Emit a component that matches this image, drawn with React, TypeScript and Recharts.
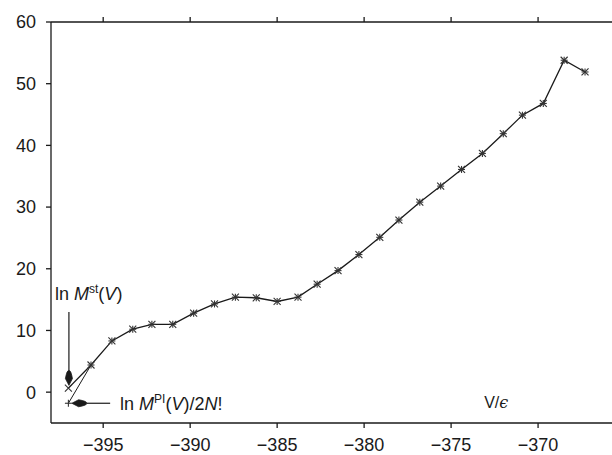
import React from 'react';
import { LineChart, Line, XAxis, YAxis, ReferenceLine, ReferenceDot } from 'recharts';

// potential energy V/eps at each histogram point
const vGrid = [
  -397.0, -395.7, -394.5, -393.3, -392.2, -391.0, -389.8, -388.6, -387.4, -386.2, -385.0, -383.8, -382.7,
  -381.5, -380.3, -379.1, -378.0, -376.8, -375.6, -374.4, -373.2, -372.0, -370.9, -369.7, -368.5, -367.3,
];
const lnMst = [
  0.65, 4.4, 8.3, 10.2, 11.0, 11.0, 12.8, 14.3, 15.4, 15.3, 14.7, 15.4, 17.5,
  19.7, 22.3, 25.1, 27.9, 30.8, 33.4, 36.1, 38.7, 41.9, 44.9, 46.8, 53.8, 51.9,
];
// the PI estimate only differs at the lowest bin
const vPI = [-397.0, -395.7];
const lnMpi = [-1.8, 4.4];

const xTicks = [-395, -390, -385, -380, -375, -370];
const yTicks = [0, 10, 20, 30, 40, 50, 60];
const xDomain = [-398, -365.75];
const yDomain = [-5, 60];

const mstData = vGrid.map((v, i) => ({ v, y: lnMst[i] }));
const piData = vPI.map((v, i) => ({ v, y: lnMpi[i] }));

const FONT = '"Liberation Sans", Arial, Helvetica, sans-serif';
const INK = '#1a1a1a';
const fmt = (v: number) => (v < 0 ? `\u2212${Math.abs(v)}` : `${v}`);

const Star = ({ cx, cy, kind }: { cx: number; cy: number; kind: string }) => {
  const s = 3.5;
  return (
    <g stroke="#333" strokeWidth={1.1} fill="none">
      {kind !== 'plus' && (
        <>
          <line x1={cx - s} y1={cy - s} x2={cx + s} y2={cy + s} />
          <line x1={cx - s} y1={cy + s} x2={cx + s} y2={cy - s} />
        </>
      )}
      {kind !== 'cross' && (
        <>
          <line x1={cx - s} y1={cy} x2={cx + s} y2={cy} />
          <line x1={cx} y1={cy - s} x2={cx} y2={cy + s} />
        </>
      )}
    </g>
  );
};

// line with filled teardrop head at (x2, y2)
const Arrow = (props: any) => {
  const { x1, y1, x2, y2 } = props;
  const dx = x2 - x1;
  const dy = y2 - y1;
  const len = Math.sqrt(dx * dx + dy * dy) || 1;
  const ux = dx / len;
  const uy = dy / len;
  const px = -uy;
  const py = ux;
  const L = 15;
  const w = 3.5;
  const bx = x2 - ux * L;
  const by = y2 - uy * L;
  const mx = x2 - ux * L * 0.45;
  const my = y2 - uy * L * 0.45;
  const d = `M${x2},${y2} L${mx + px * w},${my + py * w} Q${bx + px * w * 0.6},${by + py * w * 0.6} ${bx},${by} Q${bx - px * w * 0.6},${by - py * w * 0.6} ${mx - px * w},${my - py * w} Z`;
  return (
    <g>
      <line x1={x1} y1={y1} x2={bx} y2={by} stroke={INK} strokeWidth={1.2} />
      <path d={d} fill={INK} stroke={INK} strokeWidth={0.8} />
    </g>
  );
};

// short outward tick on the top frame, drawn from a vertical reference line
const TopTick = (props: any) => {
  const top = Math.min(props.y1, props.y2);
  return <line x1={props.x1} y1={top} x2={props.x1} y2={top - 5} stroke={INK} strokeWidth={1.3} />;
};

const MstLabel = (p: any) => (
  <text x={p.cx} y={p.cy} fontFamily={FONT} fontSize={18} fill={INK}>
    ln <tspan fontStyle="italic">M</tspan>
    <tspan fontSize={12} dy={-7}>st</tspan>
    <tspan dy={7}>(</tspan>
    <tspan fontStyle="italic">V</tspan>)
  </text>
);

const PiLabel = (p: any) => (
  <text x={p.cx} y={p.cy} fontFamily={FONT} fontSize={18} fill={INK}>
    ln <tspan fontStyle="italic">M</tspan>
    <tspan fontSize={12} dy={-7}>PI</tspan>
    <tspan dy={7}>(</tspan>
    <tspan fontStyle="italic">V</tspan>)/2<tspan fontStyle="italic">N</tspan>!
  </text>
);

const AxisName = (p: any) => (
  <text x={p.cx} y={p.cy} fontFamily={FONT} fontSize={16} fill={INK}>
    V/<tspan fontFamily='"DejaVu Serif", serif' fontStyle="italic">ϵ</tspan>
  </text>
);

export default function App() {
  const axisProps = {
    stroke: INK,
    strokeWidth: 1.3,
    tickSize: 5,
    tickMargin: 10,
    tick: { fill: INK, fontSize: 18, fontFamily: FONT },
  };
  return (
    <div style={{ position: 'absolute', left: 0, top: 0, background: '#fff' }}>
      <LineChart width={612} height={455} margin={{ top: 22, right: 0, bottom: 0, left: 0 }}>
        <XAxis
          dataKey="v"
          type="number"
          domain={xDomain}
          ticks={xTicks}
          tickFormatter={fmt}
          height={32}
          allowDataOverflow
          {...axisProps}
        />
        <YAxis
          dataKey="y"
          type="number"
          domain={yDomain}
          ticks={yTicks}
          tickFormatter={fmt}
          width={51}
          allowDataOverflow
          {...axisProps}
        />
        {/* top frame */}
        <ReferenceLine y={yDomain[1]} stroke={INK} strokeWidth={1.3} ifOverflow="visible" />
        {xTicks.map((t) => (
          <ReferenceLine key={t} x={t} shape={TopTick} ifOverflow="visible" />
        ))}
        <Line
          data={piData}
          dataKey="y"
          type="linear"
          stroke={INK}
          strokeWidth={1}
          isAnimationActive={false}
          dot={(p: any) =>
            p.index === 0 ? <Star key={`pi-${p.index}`} cx={p.cx} cy={p.cy} kind="plus" /> : <g key={`pi-${p.index}`} />
          }
        />
        <Line
          data={mstData}
          dataKey="y"
          type="linear"
          stroke={INK}
          strokeWidth={1.3}
          isAnimationActive={false}
          dot={(p: any) => (
            <Star key={`st-${p.index}`} cx={p.cx} cy={p.cy} kind={p.index === 0 ? 'cross' : 'star'} />
          )}
        />
        <ReferenceLine
          segment={[
            { x: -396.97, y: 13.0 },
            { x: -396.97, y: 1.1 },
          ]}
          shape={Arrow}
        />
        <ReferenceLine
          segment={[
            { x: -394.6, y: -1.8 },
            { x: -396.8, y: -1.8 },
          ]}
          shape={Arrow}
        />
        <ReferenceDot x={-397.77} y={14.9} shape={MstLabel} />
        <ReferenceDot x={-394.03} y={-2.9} shape={PiLabel} />
        <ReferenceDot x={-373.1} y={-2.6} shape={AxisName} />
      </LineChart>
    </div>
  );
}
